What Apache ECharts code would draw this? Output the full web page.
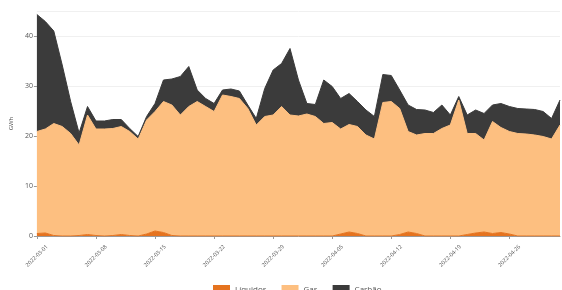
<!DOCTYPE html>
<html>
<head>
<meta charset="utf-8">
<script src="https://cdn.jsdelivr.net/npm/echarts@6/dist/echarts.min.js"></script>
<style>
	html, body { margin: 0; padding: 0; background: #fff; }
	#main { width: 562px; height: 290px; }
</style>
</head>
<body>
<div id="main"></div>
<script>
// daily categories
const dates = [
	'2022-03-01', '2022-03-02', '2022-03-03', '2022-03-04', '2022-03-05', '2022-03-06', '2022-03-07',
	'2022-03-08', '2022-03-09', '2022-03-10', '2022-03-11', '2022-03-12', '2022-03-13', '2022-03-14',
	'2022-03-15', '2022-03-16', '2022-03-17', '2022-03-18', '2022-03-19', '2022-03-20', '2022-03-21',
	'2022-03-22', '2022-03-23', '2022-03-24', '2022-03-25', '2022-03-26', '2022-03-27', '2022-03-28',
	'2022-03-29', '2022-03-30', '2022-03-31', '2022-04-01', '2022-04-02', '2022-04-03', '2022-04-04',
	'2022-04-05', '2022-04-06', '2022-04-07', '2022-04-08', '2022-04-09', '2022-04-10', '2022-04-11',
	'2022-04-12', '2022-04-13', '2022-04-14', '2022-04-15', '2022-04-16', '2022-04-17', '2022-04-18',
	'2022-04-19', '2022-04-20', '2022-04-21', '2022-04-22', '2022-04-23', '2022-04-24', '2022-04-25',
	'2022-04-26', '2022-04-27', '2022-04-28', '2022-04-29', '2022-04-30', '2022-05-01', '2022-05-02'
]

// GWh per day
const liquidos = [
	0.5, 0.6, 0.1, 0, 0, 0.1, 0.3, 0.1, 0, 0.1, 0.3, 0.1, 0, 0.4,
	1.0, 0.7, 0.1, 0, 0, 0, 0, 0, 0, 0, 0, 0, 0, 0,
	0, 0, 0, 0, 0, 0, 0, 0, 0.4, 0.8, 0.5, 0, 0, 0,
	0, 0.3, 0.8, 0.5, 0, 0, 0, 0, 0, 0.3, 0.6, 0.8, 0.5, 0.7,
	0.4, 0, 0, 0, 0, 0, 0
]
const gas = [
	20.4, 20.8, 22.4, 21.9, 20.5, 18.1, 23.9, 21.3, 21.4, 21.4, 21.6, 20.8, 19.4, 22.8,
	23.9, 26.2, 26.1, 24.2, 25.9, 26.9, 25.9, 24.9, 28.2, 27.9, 27.5, 25.5, 22.2, 23.9,
	24.2, 25.9, 24.2, 24.0, 24.4, 23.9, 22.5, 22.7, 21.0, 21.5, 21.4, 20.2, 19.4, 26.7,
	26.9, 25.2, 20.1, 19.7, 20.5, 20.5, 21.5, 22.2, 27.2, 20.2, 19.9, 18.4, 22.4, 21.0,
	20.5, 20.5, 20.4, 20.2, 19.9, 19.4, 22.2
]
const carvao = [
	23.4, 21.5, 18.5, 12.3, 6.4, 2.4, 1.7, 1.6, 1.6, 1.8, 1.4, 0.6, 0.5, 0.7,
	1.6, 4.3, 5.2, 7.7, 8.0, 2.3, 1.6, 1.6, 1.0, 1.5, 1.5, 0.7, 1.3, 5.6,
	9.0, 8.6, 13.3, 7.2, 2.1, 2.4, 8.7, 7.2, 6.1, 6.2, 5.0, 5.0, 4.5, 5.6,
	5.2, 3.7, 5.3, 5.1, 4.7, 4.2, 4.7, 2.0, 0.7, 3.7, 4.7, 5.3, 3.3, 4.8,
	5.0, 5.0, 5.0, 5.1, 5.0, 4.1, 5.0
]

const yTicks = [0, 10, 20, 30, 40]

const myChart = echarts.init(document.getElementById('main'))

const areaSeries = (name, data, color) => ({
	name: name,
	type: 'line',
	stack: 'total',
	showSymbol: false,
	data: data,
	lineStyle: { color: color, width: 1 },
	itemStyle: { color: color },
	areaStyle: { color: color, opacity: 1 }
})

myChart.setOption({
	animation: false,
	textStyle: { fontFamily: 'Open Sans, DejaVu Sans, sans-serif' },
	grid: { left: 29, right: 2, top: 11, bottom: 54 },
	legend: {
		bottom: -9,
		left: 208,
		itemWidth: 17,
		itemHeight: 9,
		itemGap: 15,
		icon: 'rect',
		textStyle: { fontSize: 8, color: '#555' },
		data: ['Líquidos', 'Gas', 'Carbão']
	},
	xAxis: {
		type: 'category',
		data: dates,
		boundaryGap: false,
		axisLine: { lineStyle: { color: '#999', width: 1 } },
		axisTick: { interval: 6, length: 3, lineStyle: { color: '#999' } },
		axisLabel: {
			interval: 6,
			rotate: 45,
			align: 'center',
			verticalAlign: 'middle',
			margin: 20,
			fontSize: 5.5,
			color: '#555'
		},
		splitLine: { show: false }
	},
	yAxis: {
		type: 'value',
		min: yTicks[0],
		max: 45,
		interval: 10,
		name: 'GWh',
		nameLocation: 'middle',
		nameGap: 20,
		nameRotate: 90,
		nameTextStyle: { fontSize: 6, color: '#555' },
		axisLine: { show: false },
		axisTick: { show: true, length: 3, lineStyle: { color: '#999' } },
		axisLabel: {
			fontSize: 7,
			color: '#555',
			margin: 4,
			showMaxLabel: false,
			formatter: v => (yTicks.includes(v) ? String(v) : '')
		},
		splitLine: { lineStyle: { color: '#f0f0f0', width: 1 } }
	},
	series: [
		areaSeries('Líquidos', liquidos, '#e5731f'),
		areaSeries('Gas', gas, '#fdbf80'),
		areaSeries('Carbão', carvao, '#3b3b3b')
	]
})
</script>
</body>
</html>
